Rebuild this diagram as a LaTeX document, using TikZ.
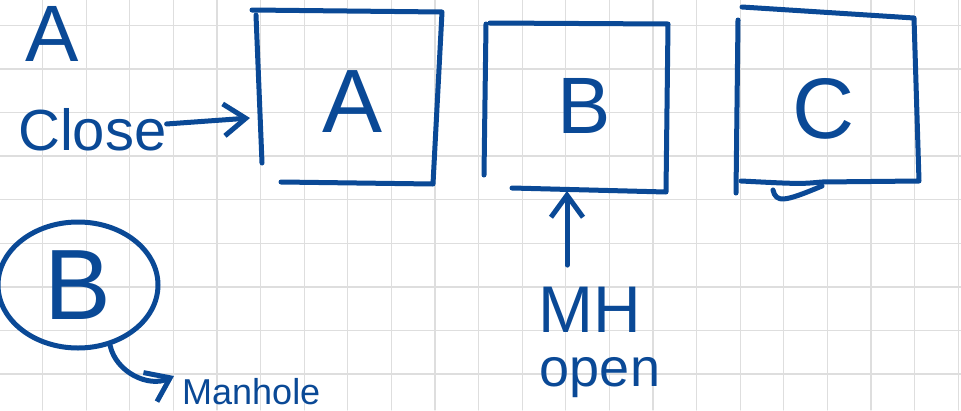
\documentclass[tikz,border=0pt]{standalone}
\usepackage{fontspec}
\setmainfont{Liberation Sans}
\usetikzlibrary{arrows.meta,shapes.geometric}
\definecolor{ink}{RGB}{10,73,150}
\definecolor{gridgray}{RGB}{222,222,222}
\begin{document}
\begin{tikzpicture}[x=1pt,y=-1pt,line join=round,line cap=round,
    pen/.style={draw=ink,line width=5pt},
    gridline/.style={draw=gridgray,line width=1.3pt},
    hand/.style={text=ink,inner sep=0pt},
    barb/.style={-{Straight Barb[length=22pt,width=32pt]}}]
    \useasboundingbox (0,0) rectangle (961,410);
    \clip (0,0) rectangle (961,410);
    \fill[white] (0,0) rectangle (961,410);
    \foreach \k in {1,...,22} {
        \draw[gridline] ({-1+43.6*\k},0) -- ++(0,410);
    }
    \foreach \k in {0,...,8} {
        \draw[gridline] (0,{25.3+43.6*\k}) -- ++(961,0);
    }

    \draw[pen] (256,15) -- (262,163);
    \draw[pen] (252,10) -- (442,12) -- (433,184) -- (281,182);
    \draw[pen] (486,24) -- (484,175);
    \draw[pen] (490,23) -- (668,24) -- (666,192) -- (512,188);
    \draw[pen] (738,20) -- (736,193);
    \draw[pen] (742,7) -- (914,18) -- (919,181) -- (822,182) .. controls (800,184) .. (741,181);
    \draw[pen] (773,190) .. controls (776,203) and (784,202) .. (822,186);

    \node[hand,font=\fontsize{80}{80}\selectfont] (topA) at (52,34) {A};
    \node[hand,anchor=base west,font=\fontsize{58}{58}\selectfont] (close) at (18,150) {Close};
    \node[hand,font=\fontsize{90}{90}\selectfont] (letA) at (353,102) {A};
    \node[hand,font=\fontsize{80}{80}\selectfont] (letB) at (584,106) {B};
    \node[hand,font=\fontsize{86}{86}\selectfont] (letC) at (824,109) {C};
    \node[hand,draw=ink,line width=5pt,ellipse,minimum width=160pt,minimum height=126pt,
        font=\fontsize{100}{100}\selectfont] (circB) at (78,285) {B};
    \node[hand,font=\fontsize{66}{66}\selectfont] (mh) at (590,310) {MH};
    \node[hand,anchor=base,font=\fontsize{54}{54}\selectfont] (open) at (600,386) {open};
    \node[hand,anchor=base west,font=\fontsize{36}{36}\selectfont] (manhole) at (182,404) {Manhole};

    \coordinate (boxAw) at (250,118);
    \coordinate (boxBs) at (567,191);
    \coordinate (mtip) at (174,376);

    \draw[pen,barb] (close) -- (boxAw);
    \draw[pen,barb,shorten <=22pt] (boxBs |- mh.north) -- (boxBs);
    \draw[pen,barb] (circB.-62) to[out=-78,in=205] (mtip);
\end{tikzpicture}
\end{document}
